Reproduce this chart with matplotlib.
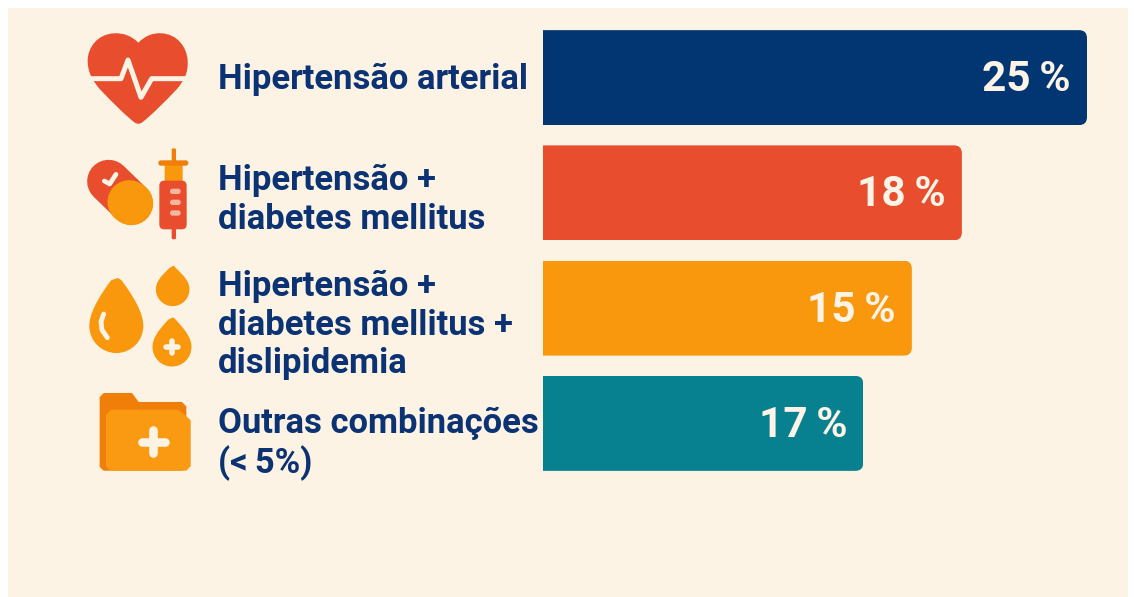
import numpy as np
import matplotlib
matplotlib.use("Agg")
import matplotlib.pyplot as plt
from matplotlib.patches import FancyBboxPatch, PathPatch, Rectangle, Circle, Polygon
from matplotlib.path import Path

# ---- data ----
categories = ["Hipertensão arterial", "Hipertensão +\ndiabetes mellitus",
              "Hipertensão +\ndiabetes mellitus +\ndislipidemia", "Outras combinações\n(<\u20095%)"]
value_labels = ["25\u2009%", "18\u2009%", "15\u2009%", "17\u2009%"]
bar_lengths = [25.0, 19.25, 16.95, 14.72]   # drawn length, as it appears in the picture
bar_colors = ["#023672", "#E84E2E", "#F9970D", "#078090"]

W, H = 1134, 597
BG = "#FCF3E4"; RED = "#E84E2E"; ORG = "#F9970D"; DORG = "#F07F0A"; NAVY = "#0B3373"
fig = plt.figure(figsize=(W/100, H/100), dpi=100, facecolor="white")
px = fig.add_axes([0, 0, 1, 1]); px.set_xlim(0, W); px.set_ylim(H, 0); px.axis("off")
px.add_patch(Rectangle((8, 8), 1120, 589, fc=BG, ec="none", zorder=0))

# ---- bars ----
ax = fig.add_axes([543/W, 1-481/H, 544/W, 461/H]); ax.patch.set_alpha(0)
ax.set_xlim(0, 25); ax.set_ylim(3.5, -0.5); ax.axis("off")
ys = np.arange(4)
bars = ax.barh(ys, bar_lengths, height=0.824, color=bar_colors, zorder=2)
fig.canvas.draw()
inv = px.transData.inverted()
for b, lab in zip(bars, value_labels):
    (x0, y1), (x1, y0) = inv.transform(ax.transData.transform([(b.get_x(), b.get_y()+b.get_height()), (b.get_x()+b.get_width(), b.get_y())]))
    y0, y1 = min(y0, y1), max(y0, y1)
    clip = FancyBboxPatch((x0-30, y0), x1-x0+30, y1-y0, boxstyle="round,pad=0,rounding_size=8",
                          transform=px.transData, fc="none", ec="none")
    b.set_clip_path(clip)
    ax.annotate(lab, xy=(b.get_width(), b.get_y()+b.get_height()/2), xytext=(-11.5, 1.8),
                textcoords="offset points", ha="right", va="center_baseline", color="#FDF3E6",
                fontsize=30.5, family="Roboto", weight="bold", zorder=3)

# ---- labels ----
label_pos = [79, 200, 325, 444]
for c, y in zip(categories, label_pos):
    px.text(218, y, c, ha="left", va="center", fontsize=24.9, color=NAVY, family="Roboto",
            weight="bold", linespacing=1.2, zorder=3)

# ---- icons ----
def Z(ox, oy, pts):
    return [(ox + x/3, oy + y/3) for x, y in pts]

def add_path(verts, codes, fc, z=4, **kw):
    p = PathPatch(Path(verts, codes), fc=fc, ec="none", zorder=z, **kw); px.add_patch(p); return p

M, C, L, CL = Path.MOVETO, Path.CURVE4, Path.LINETO, Path.CLOSEPOLY
ox, oy = 70, 20
heart = Z(ox, oy, [(205,68),(185,48),(160,38),(132,40),(85,42),(52,80),(53,125),(54,160),(70,185),(90,208),
                   (125,245),(165,285),(192,306),(200,313),(210,313),(218,306),(245,285),(285,245),(320,208),
                   (340,185),(355,160),(353,125),(352,80),(320,42),(275,40),(247,38),(225,48),(205,68),(205,68)])
add_path(heart, [M]+[C]*27+[CL], RED)
ecg = Z(ox, oy, [(50,176),(153,176),(174,120),(213,232),(245,176),(360,176)])
px.plot(*zip(*ecg), color=BG, lw=3.6, solid_joinstyle="round", zorder=5)

p1 = Z(ox, oy, [(116,484)])[0]; p2 = Z(ox, oy, [(184,550)])[0]; p3 = Z(ox, oy, [(178,546)])[0]
px.plot([p1[0], p2[0]], [p1[1], p2[1]], color=RED, lw=31, solid_capstyle="round", zorder=4)
px.plot([p3[0], p2[0]], [p3[1], p2[1]], color=ORG, lw=31.5, solid_capstyle="round", zorder=5)
px.plot(*zip(*Z(ox, oy, [(103,483),(119,492),(138,463)])), color=BG, lw=3.4, solid_capstyle="round",
        solid_joinstyle="round", zorder=6)

# syringe
def rrect(x0, y0, x1, y1, r, fc, z=4):
    a, b = Z(ox, oy, [(x0, y0), (x1, y1)])
    px.add_patch(FancyBboxPatch(a, b[0]-a[0], b[1]-a[1], boxstyle=f"round,pad=0,rounding_size={r}", fc=fc, ec="none", zorder=z))
rrect(305, 385, 318, 430, 1.5, DORG)
rrect(265, 421, 355, 437, 2.5, DORG, 5)
rrect(284, 432, 338, 485, 0.5, ORG)
rrect(268, 482, 350, 628, 5, RED, 5)
rrect(305, 620, 318, 658, 1.5, RED)
for yy in (514, 547, 579):
    rrect(300, yy-8, 332, yy+8, 2.5, "#F9B5A0", 6)

# drops
def drop(cx, cy, r, top, fc=ORG):
    k = 0.5523*r
    h = cy-top
    v = [(cx-r*0.06, top), (cx+r*0.06, top-1), (cx+r*0.12, top), (cx+r*0.2, top+1.5),
         (cx+r*0.7, top+h*0.42), (cx+r, cy-r*0.45), (cx+r, cy),
         (cx+r, cy+k), (cx+k, cy+r), (cx, cy+r), (cx-k, cy+r), (cx-r, cy+k), (cx-r, cy),
         (cx-r, cy-r*0.45), (cx-r*0.7, top+h*0.42), (cx-r*0.2, top+1.5), (cx-r*0.06, top), (cx-r*0.06, top)]
    add_path(v, [M]+[L]*3+[C]*3+[C]*6+[C]*3+[L]+[CL], fc)
ox, oy = 70, 250
def Zp(x, y): return (ox + x/3, oy + y/3)
c = Zp(139, 228); drop(c[0], c[1], 27, Zp(0, 87)[1])
c = Zp(308, 118); drop(c[0], c[1], 16.8, Zp(0, 50)[1])
c = Zp(306, 291); drop(c[0], c[1], 19.5, Zp(0, 205)[1])
t = [(101,192),(93,215),(96,240),(112,263)]
px.plot(*zip(*[Zp(x, y) for x, y in t]), color=BG, lw=3.5, solid_capstyle="round", solid_joinstyle="round", zorder=5)

def plus(cx, cy, arm, lw):
    a, b = Zp(cx, cy), arm/3
    px.plot([a[0]-b, a[0]+b], [a[1], a[1]], color=BG, lw=lw, solid_capstyle="round", zorder=7)
    px.plot([a[0], a[0]], [a[1]-b, a[1]+b], color=BG, lw=lw, solid_capstyle="round", zorder=7)
plus(306, 290, 18, 4.0)

# folder
back = [Zp(*q) for q in [(102,431),(185,431),(205,458),(335,458),(347,470),(347,650),(335,660),(102,660),(91,650),(91,442)]]
px.add_patch(Polygon(back, closed=True, fc=DORG, ec=DORG, lw=1, joinstyle="round", zorder=4))
front = [Zp(*q) for q in [(124,481),(322,481),(345,498),(360,512),(360,648),(348,660),(122,660),(110,648),(110,495)]]
px.add_patch(Polygon(front, closed=True, fc="#FA9A12", ec="#FA9A12", lw=1, joinstyle="round", zorder=5))
plus(250, 575, 35, 6.2)

fig.savefig("out.png", dpi=100, facecolor="white")
